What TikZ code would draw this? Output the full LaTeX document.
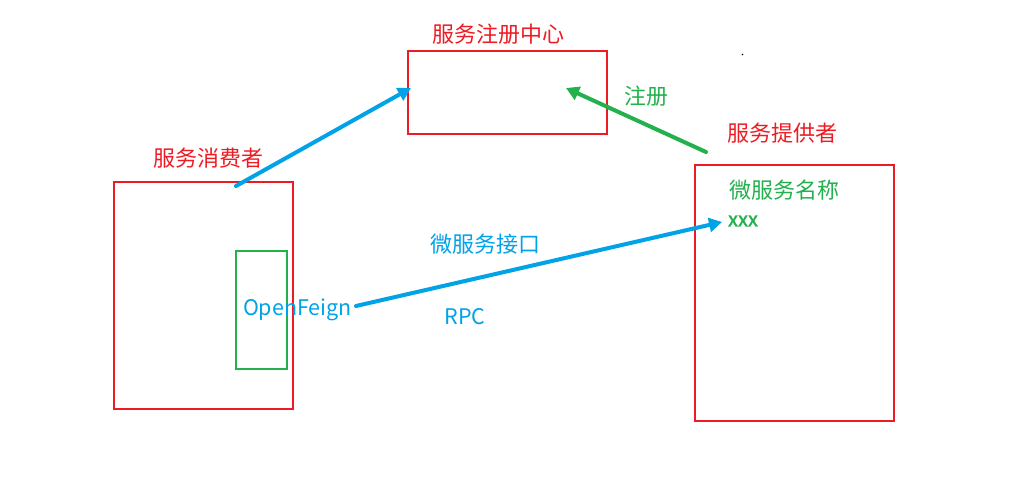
\documentclass[tikz,border=0pt]{standalone}
\usepackage{fontspec}
\setmainfont{Noto Sans CJK SC}
\newfontfamily\cjk{Noto Sans CJK SC}
\newfontfamily\cjkbold[FakeBold=1.5]{Noto Sans CJK SC}
\usetikzlibrary{arrows.meta}
\definecolor{pred}{HTML}{ED1C24}
\definecolor{pgreen}{HTML}{22B14C}
\definecolor{pblue}{HTML}{00A2E8}
\begin{document}
\begin{tikzpicture}[x=1pt,y=-1pt,
  redbox/.style={draw=pred,line width=2pt},
  greenbox/.style={draw=pgreen,line width=2pt},
  lbl/.style={font=\cjk\fontsize{22}{26}\selectfont,inner sep=0pt},
  conn/.style={line width=4pt,line cap=round,-{Triangle[length=13pt,width=14pt]}}]
\useasboundingbox[fill=white] (0,0) rectangle (1020,492);
% boxes
\node[redbox,minimum width=199pt,minimum height=83pt,inner sep=0pt] (reg) at (507.5,92.5) {};
\node[redbox,minimum width=179pt,minimum height=227pt,inner sep=0pt] (cons) at (203.5,295.5) {};
\node[greenbox,minimum width=51pt,minimum height=118pt,inner sep=0pt] (feignbox) at (261.5,310) {};
\node[redbox,minimum width=199pt,minimum height=256pt,inner sep=0pt] (prov) at (794.5,293) {};
% labels
\node[lbl,text=pred] (regl) at (498,34) {服务注册中心};
\node[lbl,text=pred] (consl) at (208,158) {服务消费者};
\node[lbl,text=pred] (provl) at (782,133) {服务提供者};
\node[lbl,text=pgreen] (regtxt) at (646,96) {注册};
\node[lbl,text=pgreen] (svcname) at (784,190) {微服务名称};
\node[lbl,text=pgreen,font=\cjkbold\fontsize{20}{24}\selectfont] (xxx) at (743,221) {xxx};
\node[lbl,text=pblue] (iface) at (485,244) {微服务接口};
\node[lbl,text=pblue,font=\cjk\fontsize{21.5}{24}\selectfont] (feign) at (297.5,310) {OpenFeign};
\node[lbl,text=pblue,font=\cjk\fontsize{21.5}{24}\selectfont] (rpc) at (465,317) {RPC};
% connector anchors
\coordinate (c1s) at (236,186);
\coordinate (c1e) at (411,88);
\coordinate (c2s) at (706,152);
\coordinate (c2e) at (566,88);
\coordinate (c3s) at (356,306);
\coordinate (c3e) at (722,222);
\draw[conn,draw=pblue,fill=pblue] (c1s) -- (c1e);
\draw[conn,draw=pgreen,fill=pgreen] (c2s) -- (c2e);
\draw[conn,draw=pblue,fill=pblue] (c3s) -- (c3e);
% tiny dot
\fill[black] (742.5,54.5) circle (0.8pt);
\end{tikzpicture}
\end{document}
